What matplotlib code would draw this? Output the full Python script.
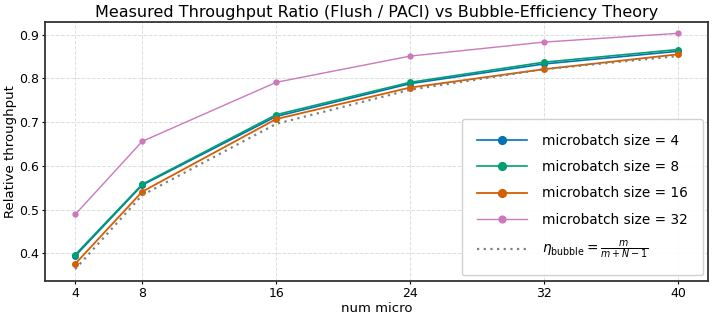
import matplotlib.pyplot as plt

num_micro = [4, 8, 16, 24, 32, 40]
mb_sizes = [4, 8, 16, 32]
ratio_mb4 = [0.394, 0.556, 0.713, 0.788, 0.833, 0.862]
ratio_mb8 = [0.397, 0.558, 0.717, 0.791, 0.837, 0.866]
ratio_mb16 = [0.376, 0.541, 0.707, 0.779, 0.821, 0.855]
ratio_mb32 = [0.489, 0.656, 0.791, 0.851, 0.883, 0.903]
theory = [0.364, 0.533, 0.696, 0.774, 0.821, 0.851]

series = [ratio_mb4, ratio_mb8, ratio_mb16, ratio_mb32]
colors = ["#0173b2", "#029e73", "#d55e00", "#cc78bc"]
widths = [1.2, 1.2, 1.3, 1.0]
msizes = [4.0, 4.0, 4.0, 3.5]

fig, ax = plt.subplots(figsize=(7.16, 3.17), dpi=100)

for size, vals, c, lw, ms in zip(mb_sizes, series, colors, widths, msizes):
    ax.plot(num_micro, vals, marker="o", color=c, lw=lw, ms=ms,
            label=f"microbatch size = {size}")

ax.plot(num_micro, theory, ls=(0, (1, 2)), color="gray", lw=1.6,
        label=r"$\eta_{\mathrm{bubble}} = \frac{m}{m + N - 1}$")

ax.set_xticks(num_micro)
ax.set_xlabel("num micro", fontsize=9.5, labelpad=1)
ax.set_ylabel("Relative throughput", fontsize=9.5, labelpad=1)
ax.set_title("Measured Throughput Ratio (Flush / PACI) vs Bubble-Efficiency Theory",
             fontsize=11.5, pad=3)
ax.grid(True, ls="--", color="#dddddd", lw=0.7)
ax.tick_params(labelsize=9, length=2.5, pad=2)
for s in ax.spines.values():
    s.set_color("#333333")
    s.set_linewidth(1.3)

leg = ax.legend(loc="lower right", fontsize=9.8, markerscale=1.4,
                borderpad=1.1, labelspacing=0.9, handlelength=3.7,
                handletextpad=1.1, borderaxespad=0.4, framealpha=0.9)

fig.subplots_adjust(left=0.063, right=0.989, top=0.932, bottom=0.114)
fig.savefig("out.png", dpi=100)
